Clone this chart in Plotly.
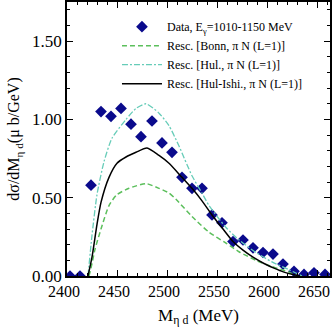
import plotly.graph_objects as go

# Data points (E_gamma = 1010-1150 MeV)
data_x = [2403, 2413, 2424, 2434, 2444, 2454, 2464, 2474, 2485, 2495, 2505, 2515, 2525,
          2535, 2545, 2555, 2566, 2576, 2586, 2596, 2606, 2616, 2627, 2637, 2647, 2658]
data_y = [0.0, 0.0, 0.58, 1.05, 1.02, 1.07, 0.97, 0.89, 0.99, 0.85, 0.79, 0.63, 0.56,
          0.56, 0.39, 0.34, 0.22, 0.23, 0.18, 0.15, 0.14, 0.076, 0.03, 0.01, 0.02, 0.01]
data_ex = [4] * len(data_x)
data_ey = [0.02] * len(data_x)

# Rescattering curves
bonn_x = [2422, 2424, 2428, 2434, 2442, 2450, 2462, 2479, 2492, 2502, 2509, 2525, 2542,
          2559, 2572, 2589, 2605, 2622, 2630]
bonn_y = [0.0, 0.05, 0.17, 0.30, 0.45, 0.52, 0.56, 0.59, 0.56, 0.53, 0.49, 0.38, 0.28,
          0.21, 0.155, 0.10, 0.06, 0.025, 0.0]

hul_x = [2421, 2425, 2430, 2437, 2445, 2459, 2469, 2479, 2492, 2502, 2512, 2525, 2535,
         2542, 2559, 2572, 2589, 2605, 2622, 2635]
hul_y = [0.0, 0.26, 0.52, 0.73, 0.88, 1.00, 1.07, 1.10, 1.04, 0.96, 0.83, 0.64, 0.53,
         0.45, 0.31, 0.23, 0.15, 0.09, 0.04, 0.0]

hi_x = [2421, 2425, 2430, 2434, 2442, 2450, 2459, 2469, 2480, 2492, 2502, 2515, 2525,
        2535, 2545, 2556, 2566, 2576, 2586, 2597, 2607, 2617, 2627, 2633]
hi_y = [0.0, 0.12, 0.33, 0.47, 0.63, 0.72, 0.76, 0.79, 0.817, 0.77, 0.72, 0.63, 0.56,
        0.48, 0.39, 0.30, 0.22, 0.165, 0.12, 0.08, 0.05, 0.025, 0.008, 0.0]

x_ticks = [2400, 2450, 2500, 2550, 2600, 2650]
x_tick_labels = ["2400", "2450", "2500", "2550", "2600", "2650"]
y_ticks = [0.0, 0.5, 1.0, 1.5]

FONT = "Liberation Serif, Times New Roman, serif"

fig = go.Figure()
fig.add_trace(go.Scatter(
    x=data_x, y=data_y, mode="markers",
    name="Data, E<sub>γ</sub>=1010-1150 MeV",
    marker=dict(symbol="diamond", size=9, color="#0a0a8c"),
    error_x=dict(type="data", array=data_ex, color="#7f8fd8", thickness=1, width=0),
    error_y=dict(type="data", array=data_ey, color="#7f8fd8", thickness=1, width=0),
))
fig.add_trace(go.Scatter(
    x=bonn_x, y=bonn_y, mode="lines", name="Resc. [Bonn, π N (L=1)]",
    line=dict(color="#5cbf5c", width=1.5, dash="5px,3px", shape="spline", smoothing=0.6),
))
fig.add_trace(go.Scatter(
    x=hul_x, y=hul_y, mode="lines", name="Resc. [Hul., π N (L=1)]",
    line=dict(color="#66ccb8", width=1.3, dash="6px,2px,2px,2px", shape="spline", smoothing=0.6),
))
fig.add_trace(go.Scatter(
    x=hi_x, y=hi_y, mode="lines", name="Resc. [Hul-Ishi., π N (L=1)]",
    line=dict(color="black", width=1.5, shape="spline", smoothing=0.6),
))

axis_common = dict(
    showline=True, linecolor="black", linewidth=1.5, mirror="allticks",
    ticks="inside", ticklen=6, tickwidth=1, tickcolor="black",
    showgrid=False, zeroline=False, automargin=False, ticklabeloverflow="allow",
)

fig.update_xaxes(
    range=[2400, 2663], tickvals=x_ticks, ticktext=x_tick_labels,
    ticklabelshift=-3, tickfont=dict(family=FONT, size=16, color="black"),
    minor=dict(dtick=10, tick0=2400, ticks="inside", ticklen=3, tickcolor="black", showgrid=False),
    title=dict(text="M<sub>η d</sub> (MeV)", font=dict(family=FONT, size=17, color="black"), standoff=10),
    **axis_common,
)
fig.update_yaxes(
    range=[0, 1.75], tickvals=y_ticks, ticktext=["%.2f" % v for v in y_ticks],
    tickfont=dict(family=FONT, size=17, color="black"),
    minor=dict(dtick=0.1, tick0=0, ticks="inside", ticklen=3, tickcolor="black", showgrid=False),
    title=dict(text="dσ/dM<sub>η d</sub>(μ b/GeV)", font=dict(family=FONT, size=16, color="black"), standoff=8),
    **axis_common,
)

fig.update_layout(
    width=332, height=332,
    margin=dict(l=67, r=2, t=2, b=56),
    paper_bgcolor="white", plot_bgcolor="white",
    font=dict(family=FONT, color="black"),
    legend=dict(x=0.19, y=0.963, xanchor="left", yanchor="top",
                bgcolor="rgba(0,0,0,0)", font=dict(family=FONT, size=12, color="black"),
                itemwidth=40, tracegroupgap=0),
)

fig.write_html("out.html", config={"displayModeBar": False},
               post_script="document.body.style.margin='0';")
